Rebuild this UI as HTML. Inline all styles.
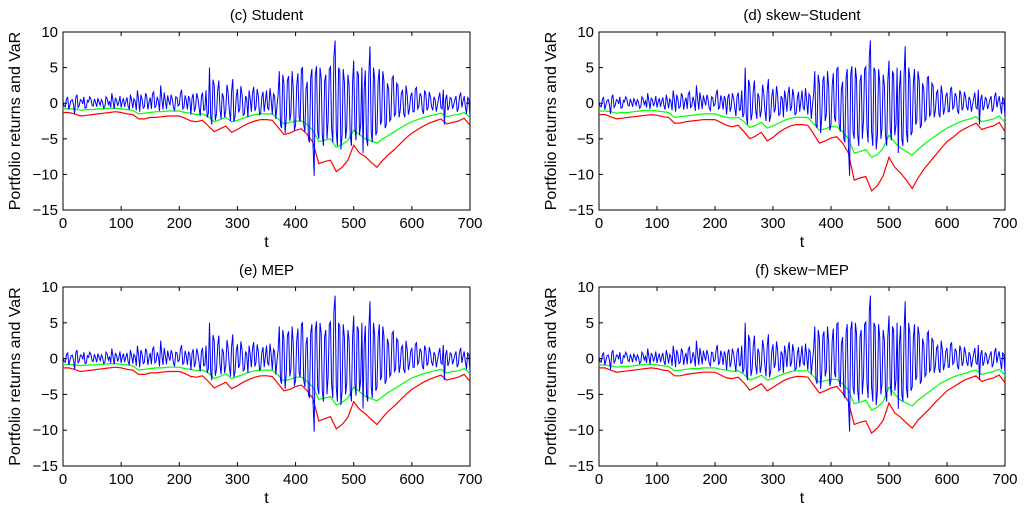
<!DOCTYPE html>
<html><head><meta charset="utf-8"><style>
html,body{margin:0;padding:0;background:#fff;}
svg{display:block;font-family:"Liberation Sans",Arial,sans-serif;}
</style></head><body>
<svg id="chart" width="1024" height="514" viewBox="0 0 1024 514"></svg>
<script>
const panelTitles = ["(c) Student","(d) skew\u2212Student","(e) MEP","(f) skew\u2212MEP"];
const xTicks = [0,100,200,300,400,500,600,700];
const yTicks = [10,5,0,-5,-10,-15];
const yTickLabels = ["10","5","0","\u22125","\u221210","\u221215"];
const blueStep = 4;
const varStep = 10;
// returns at t = 0,4,8,...
const returns = [0.3,-0.5,0.8,-0.2,0.5,-1.5,1.2,-0.3,0.4,0.9,-0.6,0.2,0.6,-0.4,0.1,0.7,-0.3,0.2,-0.5,0.6,0.3,1.4,-0.8,0.5,0.1,-0.6,0.7,0.2,-0.4,1.2,-0.7,0.3,
1.8,-1.2,0.6,-0.5,1.0,0.2,-0.8,1.6,-0.4,0.3,2.5,-0.9,0.4,1.1,-0.3,0.6,-1.0,0.8,-0.2,1.9,-0.6,0.4,1.0,-1.6,1.3,-0.5,0.7,-1.8,1.5,-0.9,-2.0,
5.0,-3.0,2.5,-1.5,3.2,-2.2,0.8,-1.0,1.5,-2.5,3.4,-1.8,2.0,-0.8,1.2,-1.5,0.6,1.8,-1.2,2.3,-0.5,0.9,-1.4,1.6,0.2,-0.7,2.1,-1.6,1.0,-0.4,4.5,
-3.5,2.8,-2.0,3.8,-1.5,2.2,-3.0,4.2,-2.6,5.0,-4.0,3.0,-5.5,4.8,-10.2,5.2,-5.0,3.5,-6.0,4.0,-2.5,5.1,-5.5,8.8,-6.0,4.5,-4.5,3.0,-3.5,2.5,-6.0,
6.0,-5.2,4.0,-3.0,-7.0,4.6,-6.0,8.0,-5.5,3.5,-4.0,4.8,-2.5,3.2,-3.0,2.0,-2.2,3.8,-1.5,2.5,-1.0,1.8,-2.0,1.2,-0.8,1.5,-1.2,2.2,-0.5,1.0,-1.5,
1.3,-0.6,0.8,-1.0,0.5,-0.3,1.5,-0.8,-3.0,1.2,-0.5,0.6,-0.2,1.0,-0.7,1.5,0.3,-0.4,0.8,-2.0];
// returns at t = 2,6,10,...
const returnsOdd = [-0.4,0.6,-0.9,0.4,-0.2,0.8,-0.6,0.5,-0.1,-0.7,0.4,0.9,-0.3,0.6,-0.5,0.2,0.5,-0.7,0.9,-0.2,-0.6,0.3,0.7,-0.4,1.0,0.2,-0.5,0.8,-0.9,0.4,0.6,-1.0,
0.5,1.2,-0.7,1.4,-0.9,0.8,1.3,-0.6,0.9,-1.1,0.6,1.5,-0.8,0.3,1.2,-0.7,0.9,-0.4,1.3,-0.8,1.1,-0.9,0.5,0.8,-1.2,1.4,-0.6,0.9,-1.0,1.8,-1.4,
-1.8,3.3,-2.4,1.8,-0.9,1.4,-2.0,2.6,-1.0,1.7,-2.6,1.0,-1.3,2.4,-1.7,1.0,-2.0,0.6,1.4,-1.1,2.0,-1.6,0.8,-1.2,1.8,-0.9,0.5,1.3,-2.2,1.2,-3.0,
4.0,-4.2,3.2,-2.5,4.5,-3.8,2.5,-2.0,4.8,-3.0,2.0,-5.0,3.6,-6.0,4.0,-4.0,5.0,-4.5,3.0,-5.0,4.8,-3.5,6.5,-4.0,5.0,-6.5,4.8,-5.0,4.0,-4.5,3.0,
-3.5,4.5,-4.5,5.0,2.0,-5.0,4.0,-4.0,5.0,-4.5,3.0,-3.0,4.5,-3.5,2.8,-2.5,3.5,-1.8,2.8,-2.0,1.5,-1.5,2.5,-1.6,1.0,-1.2,2.0,-0.8,1.4,-1.0,1.8,
-1.0,1.6,-0.5,0.9,-1.2,0.7,-0.6,1.9,0.5,-1.0,0.8,-0.8,0.5,-1.2,0.9,-0.6,1.0,-1.5,0.6];
const greenC = [-0.8,-0.8,-0.8,-1.0,-0.9,-0.9,-0.8,-0.8,-0.7,-0.7,-0.8,-0.9,-1.0,-1.5,-1.4,-1.3,-1.2,-1.2,-1.1,-1.1,-1.1,-1.3,-1.4,-1.6,-1.5,-1.9,-2.6,-2.3,-2.0,-2.6,-2.4,-2.1,-1.8,-1.6,-1.5,-1.5,-1.5,-2.2,-2.9,-2.7,-2.5,-2.5,-3.0,-3.8,-5.4,-5.2,-5.0,-6.2,-5.8,-5.2,-3.8,-4.4,-5.0,-5.3,-5.6,-5.0,-4.5,-4.0,-3.5,-3.0,-2.6,-2.3,-2.0,-1.8,-1.6,-1.4,-1.9,-1.7,-1.6,-1.3,-2.0];
const redC = [-1.3,-1.3,-1.5,-1.8,-1.7,-1.6,-1.5,-1.4,-1.3,-1.2,-1.3,-1.5,-1.6,-2.2,-2.2,-2.0,-2.0,-1.9,-1.8,-1.8,-1.8,-2.1,-2.5,-2.6,-2.4,-3.2,-4.0,-3.6,-3.2,-4.1,-3.7,-3.2,-2.8,-2.5,-2.3,-2.3,-2.4,-3.4,-4.4,-4.2,-3.8,-3.6,-4.4,-5.5,-8.5,-8.2,-8.0,-9.6,-9.0,-8.0,-5.9,-7.0,-7.5,-8.3,-9.0,-8.0,-7.2,-6.5,-5.7,-4.9,-4.2,-3.7,-3.2,-2.8,-2.5,-2.2,-2.9,-2.7,-2.5,-2.1,-3.1];
const greenD = [-1.1,-1.1,-1.2,-1.4,-1.3,-1.3,-1.2,-1.1,-1.0,-1.0,-1.1,-1.2,-1.3,-2.0,-1.9,-1.8,-1.7,-1.6,-1.5,-1.5,-1.5,-1.8,-2.0,-2.1,-2.0,-2.6,-3.4,-3.1,-2.7,-3.5,-3.2,-2.8,-2.4,-2.1,-2.0,-2.0,-2.0,-2.9,-3.8,-3.6,-3.3,-3.3,-4.0,-5.0,-7.0,-6.8,-6.5,-7.6,-7.2,-6.3,-4.5,-5.5,-6.3,-6.8,-7.3,-6.5,-5.8,-5.2,-4.6,-4.0,-3.5,-3.1,-2.7,-2.4,-2.2,-1.9,-2.6,-2.4,-2.2,-1.8,-2.7];
const redD = [-1.6,-1.6,-1.9,-2.2,-2.1,-2.0,-1.9,-1.8,-1.7,-1.6,-1.7,-1.9,-2.0,-2.8,-2.8,-2.6,-2.5,-2.4,-2.3,-2.3,-2.3,-2.7,-3.1,-3.3,-3.1,-4.0,-5.0,-4.6,-4.1,-5.3,-4.8,-4.1,-3.6,-3.2,-3.0,-3.0,-3.1,-4.3,-5.6,-5.3,-4.9,-4.7,-5.6,-7.0,-10.8,-10.5,-10.3,-12.3,-11.6,-10.2,-7.6,-9.0,-9.8,-10.8,-12.0,-10.5,-9.3,-8.3,-7.3,-6.3,-5.4,-4.8,-4.1,-3.6,-3.2,-2.8,-3.7,-3.4,-3.2,-2.7,-4.0];
const greenE = [-0.8,-0.8,-0.9,-1.0,-0.9,-0.9,-0.8,-0.8,-0.7,-0.7,-0.8,-0.9,-1.0,-1.6,-1.5,-1.4,-1.3,-1.3,-1.2,-1.2,-1.2,-1.4,-1.5,-1.7,-1.6,-2.0,-2.8,-2.5,-2.1,-2.8,-2.5,-2.2,-1.9,-1.7,-1.6,-1.6,-1.6,-2.3,-3.1,-2.9,-2.6,-2.6,-3.2,-4.0,-5.7,-5.5,-5.3,-6.5,-6.1,-5.5,-4.0,-4.6,-5.3,-5.6,-5.9,-5.3,-4.7,-4.2,-3.7,-3.2,-2.7,-2.4,-2.1,-1.9,-1.7,-1.5,-2.0,-1.8,-1.7,-1.4,-2.1];
const redE = [-1.3,-1.3,-1.5,-1.8,-1.7,-1.6,-1.5,-1.4,-1.3,-1.2,-1.3,-1.5,-1.6,-2.2,-2.2,-2.0,-2.0,-1.9,-1.8,-1.8,-1.8,-2.1,-2.5,-2.6,-2.4,-3.2,-4.1,-3.7,-3.3,-4.2,-3.8,-3.3,-2.9,-2.6,-2.4,-2.4,-2.5,-3.5,-4.5,-4.3,-3.9,-3.7,-4.5,-5.6,-8.7,-8.4,-8.1,-9.8,-9.2,-8.2,-6.0,-7.1,-7.7,-8.5,-9.2,-8.2,-7.3,-6.6,-5.8,-5.0,-4.3,-3.8,-3.3,-2.9,-2.6,-2.3,-3.0,-2.8,-2.6,-2.2,-3.2];
const greenF = [-0.9,-0.9,-1.0,-1.2,-1.1,-1.1,-1.0,-0.9,-0.8,-0.8,-0.9,-1.0,-1.1,-1.7,-1.6,-1.5,-1.4,-1.4,-1.3,-1.3,-1.3,-1.5,-1.6,-1.8,-1.7,-2.2,-3.0,-2.7,-2.3,-3.0,-2.8,-2.4,-2.1,-1.8,-1.7,-1.7,-1.7,-2.5,-3.3,-3.1,-2.9,-2.9,-3.5,-4.4,-6.3,-6.1,-5.8,-7.2,-6.8,-6.0,-4.0,-5.0,-5.8,-6.2,-6.6,-5.8,-5.2,-4.6,-4.0,-3.4,-3.0,-2.6,-2.3,-2.1,-1.8,-1.6,-2.2,-2.0,-1.8,-1.5,-2.3];
const redF = [-1.3,-1.3,-1.6,-1.9,-1.8,-1.7,-1.6,-1.5,-1.4,-1.3,-1.4,-1.6,-1.7,-2.4,-2.4,-2.2,-2.1,-2.0,-1.9,-1.9,-1.9,-2.3,-2.7,-2.8,-2.6,-3.4,-4.4,-4.0,-3.5,-4.5,-4.0,-3.5,-3.0,-2.7,-2.5,-2.5,-2.6,-3.7,-4.8,-4.5,-4.1,-3.9,-4.8,-6.0,-9.2,-8.9,-8.7,-10.4,-9.7,-8.6,-6.2,-7.6,-8.2,-9.0,-9.7,-8.6,-7.8,-7.0,-6.1,-5.3,-4.5,-4.0,-3.5,-3.0,-2.7,-2.4,-3.2,-2.9,-2.7,-2.3,-3.4];
const panelGreen = [greenC, greenD, greenE, greenF];
const panelRed = [redC, redD, redE, redF];

const NS = "http://www.w3.org/2000/svg";
const svg = document.getElementById("chart");
const boxes = [[63,32,470,210],[599,32,1005,210],[63,287,470,466],[599,287,1005,466]];
function mk(tag, attrs, parent){const e=document.createElementNS(NS,tag);for(const k in attrs)e.setAttribute(k,attrs[k]);parent.appendChild(e);return e;}

boxes.forEach((b,p)=>{
  const [x0,y0,x1,y1]=b;
  const g=mk("g",{},svg);
  
  
  const sx=t=>x0+(t/700)*(x1-x0);
  const sy=v=>y0+((10-v)/25)*(y1-y0);
  const t=mk("text",{x:(x0+x1)/2,y:y0-12,"text-anchor":"middle","font-size":"15"},g);
  t.textContent=panelTitles[p];
  
  
  const frame=mk("rect",{x:x0,y:y0,width:x1-x0,height:y1-y0,fill:"none",stroke:"#000","stroke-width":"1"},g);
  
  
  xTicks.forEach(v=>{
    const x=sx(v);
    mk("line",{x1:x,y1:y1,x2:x,y2:y1-4,stroke:"#000"},g);
    mk("line",{x1:x,y1:y0,x2:x,y2:y0+4,stroke:"#000"},g);
    const l=mk("text",{x:x,y:y1+18,"text-anchor":"middle","font-size":"15"},g);
    l.textContent=v;
    
    
  });
  yTicks.forEach((v,i)=>{
    const y=sy(v);
    mk("line",{x1:x0,y1:y,x2:x0+4,y2:y,stroke:"#000"},g);
    mk("line",{x1:x1,y1:y,x2:x1-4,y2:y,stroke:"#000"},g);
    const l=mk("text",{x:x0-5,y:y+5,"text-anchor":"end","font-size":"15"},g);
    l.textContent=yTickLabels[i];
    
    
  });
  const xl=mk("text",{x:(x0+x1)/2,y:y1+37,"text-anchor":"middle","font-size":"16"},g);
  xl.textContent="t";
  
  
  const yc=(y0+y1)/2, yx=x0-43;
  const yl=mk("text",{x:yx,y:yc,"text-anchor":"middle","font-size":"16",transform:"rotate(-90 "+yx+" "+yc+")"},g);
  yl.textContent="Portfolio returns and VaR";
  
  
  const pts=(arr,step)=>arr.map((v,i)=>sx(i*step).toFixed(1)+","+sy(v).toFixed(1)).join(" ");
  const r=mk("polyline",{points:pts(panelRed[p],varStep),fill:"none",stroke:"#ff0000","stroke-width":"1.2"},g);
  
  
  const gr=mk("polyline",{points:pts(panelGreen[p],varStep),fill:"none",stroke:"#00ff00","stroke-width":"1.2"},g);
  
  
  const bp=[];
  returns.forEach((v,i)=>{
    bp.push(sx(i*blueStep).toFixed(1)+","+sy(v).toFixed(1));
    if(i<returnsOdd.length) bp.push(sx(i*blueStep+blueStep/2).toFixed(1)+","+sy(returnsOdd[i]).toFixed(1));
  });
  const bl=mk("polyline",{points:bp.join(" "),fill:"none",stroke:"#0000ff","stroke-width":"1"},g);
  
  
});
</script>
</body></html>
